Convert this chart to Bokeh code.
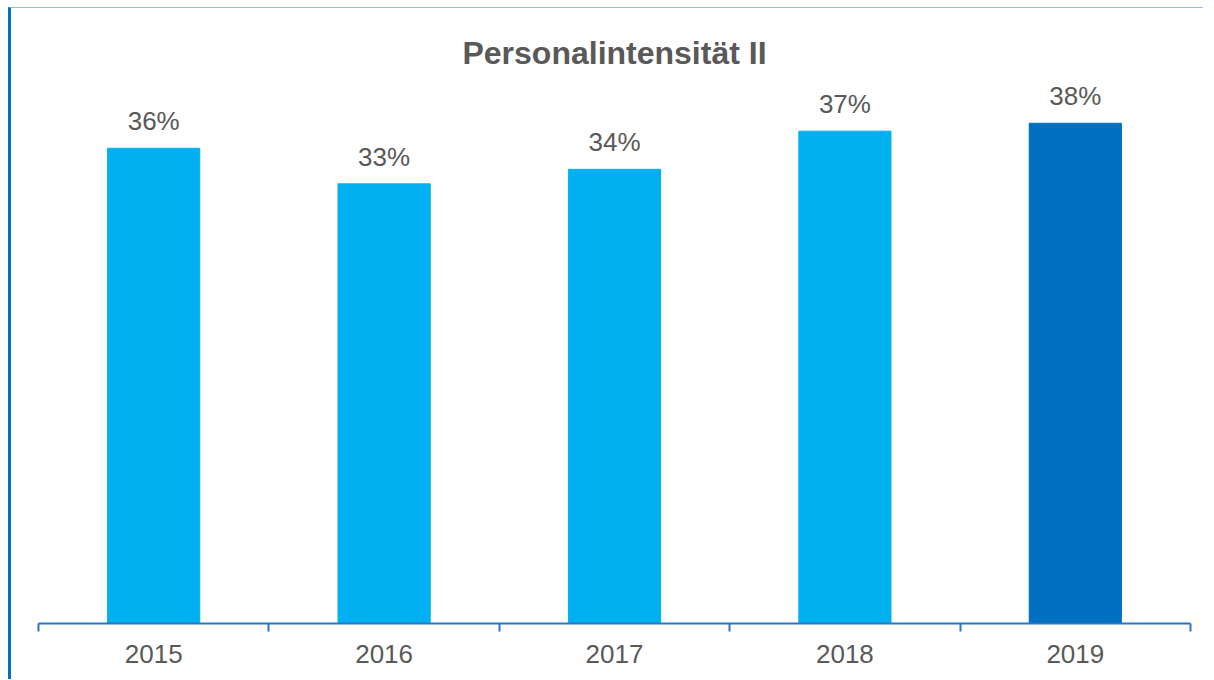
from bokeh.plotting import figure
from bokeh.models import ColumnDataSource, FixedTicker, Range1d
from bokeh.core.properties import value
from bokeh.embed import file_html
from bokeh.resources import INLINE

years = ["2015", "2016", "2017", "2018", "2019"]
shares = [36.1, 33.4, 34.5, 37.4, 38.0]
colors = ["#00b0f0", "#00b0f0", "#00b0f0", "#00b0f0", "#0070c0"]
title_text = "Personalintensität II"

FONT = "Liberation Sans"
TXT = "#595959"

xs = [i + 0.5 for i in range(len(years))]
labels = [f"{round(v)}%" for v in shares]
src = ColumnDataSource(dict(x=xs, y=shares, color=colors, label=labels))

p = figure(width=1195, height=672, output_backend="svg", toolbar_location=None,
           x_range=Range1d(0, len(years)), y_range=Range1d(0, 41.4),
           min_border_left=27, min_border_right=16, min_border_bottom=57,
           min_border_top=70)
p.margin = (7, 0, 0, 8)
p.styles = {"border-left": "3px solid #0070c0", "border-top": "1px solid #8fbde3"}

p.title.text = title_text
p.title.align = "center"
p.title.text_font = FONT
p.title.text_font_size = "32px"
p.title.text_font_style = "bold"
p.title.text_color = TXT
p.title.standoff = 16

p.vbar(x="x", top="y", width=0.4, bottom=0, color="color", source=src)
p.text(x="x", y="y", text="label", source=src, text_align="center",
       text_baseline="alphabetic", y_offset=-27, text_font=value(FONT),
       text_font_size="26px", text_color=TXT)

p.yaxis.visible = False
p.xgrid.visible = False
p.ygrid.visible = False
p.outline_line_color = None

ax = p.xaxis[0]
ax.ticker = FixedTicker(ticks=xs, minor_ticks=list(range(len(years) + 1)))
ax.major_label_overrides = {x: y for x, y in zip(xs, years)}
ax.major_tick_line_color = None
ax.minor_tick_in = 0
ax.minor_tick_out = 8
ax.minor_tick_line_color = "#2e75c6"
ax.minor_tick_line_width = 2
ax.axis_line_color = "#2e75c6"
ax.axis_line_width = 2
ax.major_label_text_font = FONT
ax.major_label_text_font_size = "26px"
ax.major_label_text_color = TXT
ax.major_label_standoff = 13

open("out.html", "w").write(file_html(p, INLINE))
